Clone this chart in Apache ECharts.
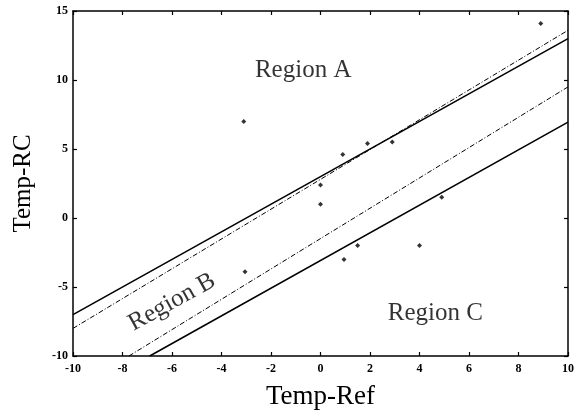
<!DOCTYPE html>
<html><head><meta charset="utf-8">
<script src="https://cdn.jsdelivr.net/npm/echarts@6/dist/echarts.min.js"></script>
<style>html,body{margin:0;padding:0;background:#fff}#c{width:578px;height:415px}</style>
</head><body><div id="c"></div>
<script>
var pointsX = [-3.1, -3.05, 0, 0, 0.9, 1.9, 2.9, 8.9, 4.9, 0.95, 1.5, 4.0];
var pointsY = [7.0, -3.9, 2.4, 1.0, 4.6, 5.4, 5.5, 14.1, 1.5, -3.0, -2.0, -2.0];
var upperSolid = [[-10, -7.0], [10, 13.0]];
var upperDashDot = [[-10, -8.0], [10, 13.6]];
var lowerDashDot = [[-7.74, -10.0], [10, 9.5]];
var lowerSolid = [[-6.9, -10.0], [10, 6.95]];
var regionNames = ['Region A', 'Region B', 'Region C'];
var regionX = [-0.7, -6.0, 4.64];
var regionY = [10.7, -6.1, -6.9];
var xTicks = [-10, -8, -6, -4, -2, 0, 2, 4, 6, 8, 10];
var yTicks = [-10, -5, 0, 5, 10, 15];

var serif = '"Liberation Serif", "DejaVu Serif", serif';
var chart = echarts.init(document.getElementById('c'), null, {renderer: 'canvas'});
var axisCommon = {
  axisLine: {show: true, onZero: false, lineStyle: {color: '#000', width: 1.5}},
  axisTick: {show: true, inside: true, length: 4, lineStyle: {color: '#000', width: 1.2}},
  splitLine: {show: false}
};
function lineSeries(d, type) {
  return {type: 'line', data: d, symbol: 'none', silent: true,
    lineStyle: {color: '#000', width: type === 'solid' ? 1.6 : 1, type: type}, z: 2};
}
var labelData = regionNames.map(function (n, i) {
  return {value: [regionX[i], regionY[i]], name: n,
    label: {show: true, formatter: n, position: 'inside', rotate: i === 1 ? 29 : 0,
      fontFamily: serif, fontSize: 25, color: '#000'}};
});
chart.setOption({
  backgroundColor: '#fff',
  animation: false,
  grid: {left: 73, right: 10, top: 11, bottom: 59, containLabel: false},
  xAxis: [
    Object.assign({type: 'value', min: -10, max: 10, interval: 2, position: 'bottom',
      name: 'Temp-Ref', nameLocation: 'middle', nameGap: 27,
      nameTextStyle: {fontFamily: serif, fontSize: 27, color: '#000'},
      axisLabel: {fontFamily: serif, fontWeight: 'bold', fontSize: 12, color: '#000', margin: 7,
        formatter: function (v) { return xTicks.indexOf(v) >= 0 ? String(v) : ''; }}}, axisCommon),
    Object.assign({type: 'value', min: -10, max: 10, interval: 2, position: 'top',
      axisLabel: {show: false}}, axisCommon)
  ],
  yAxis: [
    Object.assign({type: 'value', min: -10, max: 15, interval: 5, position: 'left',
      name: 'Temp-RC', nameLocation: 'middle', nameGap: 37, nameRotate: 90,
      nameTextStyle: {fontFamily: serif, fontSize: 25, color: '#000'},
      axisLabel: {fontFamily: serif, fontWeight: 'bold', fontSize: 12, color: '#000', margin: 5,
        formatter: function (v) { return yTicks.indexOf(v) >= 0 ? String(v) : ''; }}}, axisCommon),
    Object.assign({type: 'value', min: -10, max: 15, interval: 5, position: 'right',
      axisLabel: {show: false}}, axisCommon)
  ],
  series: [
    lineSeries(upperSolid, 'solid'),
    lineSeries(upperDashDot, [5, 2, 1, 2]),
    lineSeries(lowerDashDot, [5, 2, 1, 2]),
    lineSeries(lowerSolid, 'solid'),
    {type: 'scatter', symbol: 'diamond', symbolSize: 5, itemStyle: {color: '#000'},
      data: pointsX.map(function (x, i) { return [x, pointsY[i]]; }), z: 3},
    {type: 'scatter', symbolSize: 0, data: labelData, silent: true, z: 4}
  ]
});
</script></body></html>
